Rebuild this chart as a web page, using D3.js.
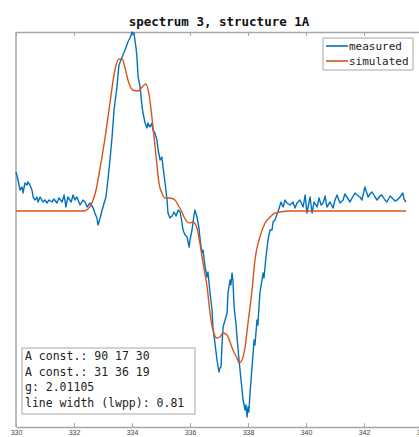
<!DOCTYPE html>
<html>
<head>
<meta charset="utf-8">
<script src="https://cdn.jsdelivr.net/npm/d3@7"></script>
<style>
  html, body { margin: 0; padding: 0; background: #fff; }
  svg { display: block; }
</style>
</head>
<body>
<svg id="chart" width="419" height="437"></svg>
<script>
// Magnetic field (mT) and first-derivative EPR signal (arbitrary units)
const fieldMeasured = [
  330.00,330.07,330.14,330.21,330.24,330.31,330.38,330.41,330.48,330.55,330.59,330.66,330.72,330.76,330.83,330.93,
  331.00,331.07,331.14,331.24,331.31,331.41,331.48,331.59,331.66,331.72,331.79,331.90,331.97,332.03,332.10,332.21,
  332.31,332.38,332.45,332.55,332.66,332.72,332.79,332.83,332.90,332.97,333.00,333.10,333.17,333.24,333.31,333.38,
  333.48,333.55,333.62,333.66,333.76,333.86,333.93,333.97,334.00,334.03,334.07,334.10,334.14,334.17,334.21,334.28,
  334.34,334.38,334.45,334.52,334.55,334.62,334.69,334.72,334.79,334.86,334.90,334.97,335.03,335.07,335.14,335.21,
  335.24,335.31,335.38,335.45,335.52,335.59,335.66,335.72,335.76,335.83,335.90,335.97,336.00,336.07,336.14,336.17,
  336.24,336.31,336.34,336.41,336.45,336.52,336.59,336.62,336.69,336.76,336.79,336.86,336.93,337.00,337.03,337.07,
  337.10,337.14,337.21,337.28,337.31,337.38,337.41,337.45,337.48,337.52,337.59,337.62,337.69,337.76,337.83,337.90,
  337.93,337.97,338.00,338.03,338.07,338.14,338.21,338.24,338.31,338.34,338.41,338.52,338.55,338.62,338.69,338.76,
  338.83,338.86,338.93,339.03,339.14,339.21,339.28,339.34,339.45,339.55,339.62,339.69,339.79,339.90,339.97,340.03,
  340.14,340.21,340.28,340.38,340.45,340.52,340.59,340.66,340.72,340.83,340.93,341.00,341.07,341.17,341.28,341.34,
  341.41,341.52,341.59,341.69,341.76,341.86,341.93,342.03,342.14,342.21,342.28,342.38,342.45,342.55,342.62,342.72,
  342.79,342.90,342.97,343.07,343.14,343.24,343.34,343.38,343.45
];
const measured = [
  39,31,21,24,18,28,26,29,26,21,14,11,14,9,14,9,
  11,8,11,9,12,8,13,9,16,4,14,9,16,11,14,6,
  11,9,4,8,3,-2,-7,-14,-7,1,4,14,31,51,73,101,
  124,146,151,154,161,169,173,176,179,177,178,171,163,154,134,124,
  106,98,88,83,88,84,88,81,78,71,61,51,54,44,28,11,
  -2,-7,-5,-1,-5,1,-1,-11,-19,-24,-26,-36,-29,-19,-4,1,
  -6,-17,-26,-42,-39,-56,-66,-61,-82,-99,-116,-132,-149,-161,-157,-156,
  -136,-116,-109,-102,-82,-69,-74,-62,-69,-96,-114,-126,-149,-169,-189,-199,
  -194,-206,-196,-201,-182,-156,-129,-134,-109,-114,-82,-62,-67,-46,-29,-19,
  -19,-11,-9,-1,9,4,11,8,6,9,3,8,11,4,16,-2,
  14,-2,9,4,13,6,8,15,4,9,3,11,16,8,11,17,
  14,9,13,18,16,14,11,24,14,17,19,14,11,15,16,11,
  9,15,13,10,11,14,18,12,9
];

const fieldSimulated = [
  330.00,332.34,332.48,332.62,332.76,332.90,333.07,333.24,333.41,333.55,333.66,333.76,333.86,334.03,334.21,334.38,
  334.48,334.59,334.69,334.79,334.86,334.93,335.03,335.14,335.31,335.48,335.59,335.72,335.83,336.00,336.10,336.24,
  336.34,336.45,336.59,336.69,336.79,336.93,337.03,337.14,337.28,337.38,337.48,337.62,337.69,337.79,337.90,338.00,
  338.14,338.24,338.41,338.59,338.76,338.93,339.10,339.45,343.45
];
const simulated = [
  0,0,2,8,21,43,73,108,141,152,152,143,131,121,120,125,
  127,116,93,66,46,28,18,13,13,11,6,-1,-8,-12,-11,-17,
  -32,-52,-76,-102,-119,-127,-126,-122,-124,-131,-139,-147,-152,-149,-136,-112,
  -79,-49,-26,-12,-6,-2,-1,0,0
];

const fieldTicks = [330, 332, 334, 336, 338, 340, 342, 344];
const seriesNames = ["measured", "simulated"];
const seriesColors = ["#0072BD", "#D95319"];
const chartTitle = "spectrum 3, structure 1A";
const fitInfo = [
  "A const.: 90 17 30",
  "A const.: 31 36 19",
  "g: 2.01105",
  "line width (lwpp): 0.81"
];

const svg = d3.select("#chart");
const mono = "'DejaVu Sans Mono', 'Liberation Mono', monospace";
const plot = { left: 16, right: 422, top: 32, bottom: 427 };

const x = d3.scaleLinear().domain([330, 344]).range([plot.left, plot.right]);
const y = d3.scaleLinear().domain([-216, 179]).range([plot.bottom, plot.top]);

// Axes frame with inward ticks on bottom and top
const axisColor = "#a6a6a6";
const bottomAxis = svg.append("g")
  .attr("transform", `translate(0,${plot.bottom})`)
  .call(d3.axisBottom(x).tickValues(fieldTicks).tickSizeInner(-4).tickSizeOuter(0).tickPadding(3));
bottomAxis.select(".domain").attr("stroke", axisColor).attr("stroke-width", 1.5);
bottomAxis.selectAll(".tick line").attr("stroke", axisColor);
bottomAxis.selectAll(".tick text")
  .attr("fill", "#444")
  .attr("font-family", "'Liberation Sans', Arial, sans-serif")
  .attr("font-size", 7);

const topAxis = svg.append("g")
  .attr("transform", `translate(0,${plot.top})`)
  .call(d3.axisTop(x).tickValues(fieldTicks).tickSizeInner(-4).tickSizeOuter(0).tickFormat(""));
topAxis.select(".domain").attr("stroke", axisColor).attr("stroke-width", 1.5);
topAxis.selectAll(".tick line").attr("stroke", axisColor);

svg.append("line")
  .attr("x1", plot.left).attr("x2", plot.left)
  .attr("y1", plot.top).attr("y2", plot.bottom)
  .attr("stroke", axisColor).attr("stroke-width", 1.5);

// Spectra
const measuredPts = fieldMeasured.map((f, i) => [f, measured[i]]);
const simulatedPts = fieldSimulated.map((f, i) => [f, simulated[i]]);

svg.append("path")
  .datum(measuredPts)
  .attr("fill", "none")
  .attr("stroke", seriesColors[0])
  .attr("stroke-width", 1.4)
  .attr("stroke-linejoin", "round")
  .attr("d", d3.line().x(d => x(d[0])).y(d => y(d[1])));

svg.append("path")
  .datum(simulatedPts)
  .attr("fill", "none")
  .attr("stroke", seriesColors[1])
  .attr("stroke-width", 1.4)
  .attr("d", d3.line().x(d => x(d[0])).y(d => y(d[1])).curve(d3.curveMonotoneX));

// Title
svg.append("text")
  .attr("x", (plot.left + plot.right) / 2)
  .attr("y", 26)
  .attr("text-anchor", "middle")
  .attr("font-family", mono)
  .attr("font-weight", "bold")
  .attr("font-size", 12.5)
  .attr("fill", "#111")
  .text(chartTitle);

// Legend
const legend = svg.append("g");
legend.append("rect")
  .attr("x", 323).attr("y", 38).attr("width", 90).attr("height", 32)
  .attr("fill", "#fff").attr("stroke", axisColor).attr("stroke-width", 1);
seriesNames.forEach((name, i) => {
  const ly = 46 + i * 15;
  legend.append("line")
    .attr("x1", 326).attr("x2", 348).attr("y1", ly).attr("y2", ly)
    .attr("stroke", seriesColors[i]).attr("stroke-width", 1.6);
  legend.append("text")
    .attr("x", 349).attr("y", ly + 4)
    .attr("font-family", mono).attr("font-size", 11).attr("fill", "#222")
    .text(name);
});

// Fit parameter annotation
const info = svg.append("g");
info.append("rect")
  .attr("x", 22).attr("y", 348).attr("width", 173).attr("height", 66)
  .attr("fill", "#fff").attr("stroke", axisColor).attr("stroke-width", 1);
fitInfo.forEach((line, i) => {
  info.append("text")
    .attr("x", 25).attr("y", 360 + i * 15.5)
    .attr("font-family", mono).attr("font-size", 11.5).attr("fill", "#222")
    .text(line);
});
</script>
</body>
</html>
